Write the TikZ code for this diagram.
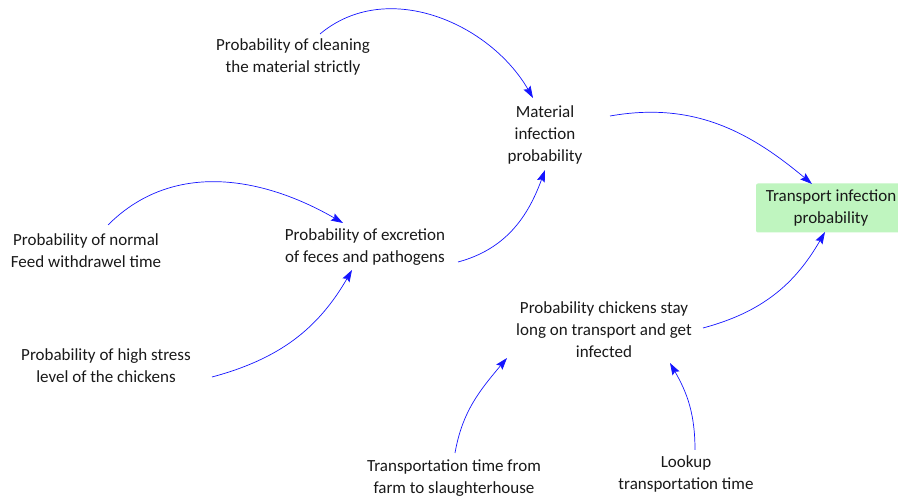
\documentclass[tikz,border=0pt]{standalone}
\usepackage{fontspec}
\setmainfont{Carlito}
\usepackage{tikz}
\usetikzlibrary{arrows.meta, calc}
\definecolor{linkblue}{HTML}{1414FF}
\definecolor{boxgreen}{HTML}{BFF5BF}

\begin{document}
\begin{tikzpicture}[x=1pt, y=1pt,
    every node/.style={font=\fontsize{17}{22}\selectfont, align=center, text=black!90},
    lbl/.style={inner sep=2pt},
    hl/.style={fill=boxgreen, rounded corners=2pt, minimum width=150pt,
      minimum height=49pt, inner sep=2pt},
    arr/.style={-{Stealth[length=12pt, width=8pt, inset=2pt]}, line width=0.7pt, color=linkblue}]
  \useasboundingbox (0,0) rectangle (898,500);
  \node[lbl] (clean) at (293,443) {Probability of cleaning\\the material strictly};
  \node[lbl] (mat) at (545,365) {Material\\infection\\probability};
  \node[hl] (trans) at (831,292) {Transport infection\\probability};
  \node[lbl] (feed) at (86,249) {Probability of normal\\Feed withdrawel time};
  \node[lbl] (excr) at (365,253) {Probability of excretion\\of feces and pathogens};
  \node[lbl] (stress) at (106,134) {Probability of high stress\\level of the chickens};
  \node[lbl] (stay) at (604,170) {Probability chickens stay\\long on transport and get\\infected};
  \node[lbl] (ttime) at (454,22) {Transportation time from\\farm to slaughterhouse};
  \node[lbl] (look) at (686,26) {Lookup\\transportation time};
  % links
  \draw[arr] ($(clean)+(27,23)$) to[out=40, in=120] ($(mat)+(-12,37)$);
  \draw[arr] ($(mat)+(65,19)$) to[out=10, in=140] ($(trans)+(-19,24)$);
  \draw[arr] ($(feed)+(22,26)$) to[out=45, in=150] ($(excr)+(-22,24)$);
  \draw[arr] ($(stress)+(106,-11)$) to[out=15, in=-120] ($(excr)+(-13,-23)$);
  \draw[arr] ($(excr)+(93,-15)$) to[out=15, in=-110] ($(mat)+(0,-35)$);
  \draw[arr] ($(stay)+(99,2)$) to[out=15, in=-120] ($(trans)+(-6,-24)$);
  \draw[arr] ($(ttime)+(1,25)$) to[out=80, in=-130] ($(stay)+(-97,-28)$);
  \draw[arr] ($(look)+(9,24)$) to[out=90, in=-60] ($(stay)+(66,-33)$);
\end{tikzpicture}
\end{document}
